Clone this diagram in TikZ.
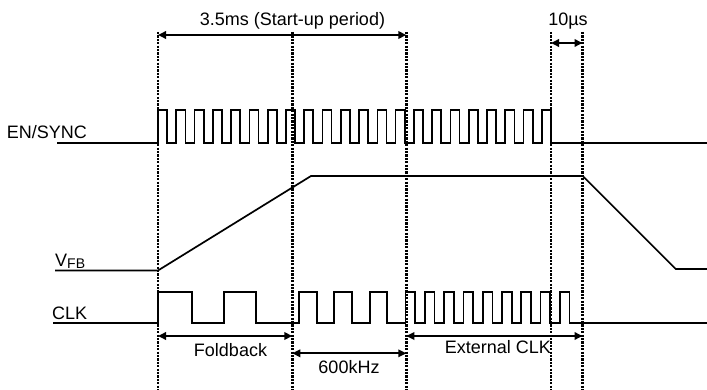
\documentclass[tikz,border=0pt]{standalone}
\usepackage{fontspec}
\setmainfont{Liberation Sans}
\usetikzlibrary{arrows.meta}
\begin{document}
\begin{tikzpicture}[x=1pt,y=-1pt,
  sig/.style={line width=1.7pt,line join=miter},
  guide/.style={line width=2.4pt,dash pattern=on 2.2pt off 1.2pt},
  dim/.style={line width=1.8pt,{Triangle[length=8pt,width=7.5pt]}-{Triangle[length=8pt,width=7.5pt]}},
  lbl/.style={font=\fontsize{18}{20}\selectfont,inner sep=0pt},
  ann/.style={font=\fontsize{18}{20}\selectfont,inner sep=0pt}]
\useasboundingbox (0,0) rectangle (707,390);
% guide coordinates
\foreach \n/\x in {g1/158,g2/292.3,g3/406.3,g4/551,g5/582.5}{
  \coordinate (\n t) at (\x,32);
  \coordinate (\n b) at (\x,390);
}
\foreach \n in {g1,g2,g3,g4,g5}{\draw[guide] (\n t) -- (\n b);}
% EN/SYNC
\draw[sig] (57,143.3) -- (158,143.3)
  foreach \k in {0,...,21}{ -- ({158+\k*18.28},110) -- ({158+\k*18.28+9.1},110) -- ({158+\k*18.28+9.1},143.3) -- ({158+(\k+1)*18.28},143.3) }
  -- (707,143.3);
% VFB
\draw[sig] (55,270.5) -- (158,270.5) -- (311,176) -- (582.7,176) -- (675.7,269) -- (707,269);
% CLK
\draw[sig] (53,323.3) -- (158,323.3) -- (158,291.7) -- (192.3,291.7) -- (192.3,323.3) -- (224,323.3) -- (224,291.7) -- (256,291.7) -- (256,323.3)
  -- (299,323.3) -- (299,291.7) -- (316.7,291.7) -- (316.7,323.3) -- (334.3,323.3) -- (334.3,291.7) -- (352.3,291.7) -- (352.3,323.3)
  -- (370,323.3) -- (370,291.7) -- (386.7,291.7) -- (386.7,323.3) -- (405.5,323.3)
  foreach \k in {0,...,8}{ -- ({405.5+\k*19.3},291.7) -- ({405.5+\k*19.3+9.7},291.7) -- ({405.5+\k*19.3+9.7},323.3) -- ({405.5+(\k+1)*19.3},323.3) }
  -- (707,323.3);
% labels
\node[lbl,anchor=base east] (en) at (87,138.5) {EN/SYNC};
\node[lbl,anchor=base west] (vfb) at (55,266.7) {V\raisebox{-1.8pt}{\fontsize{14}{16}\selectfont FB}};
\node[lbl,anchor=base west] (clk) at (52,319.3) {CLK};
% dimension arrows
\coordinate (a1) at (158,35); \coordinate (a2) at (406.3,35);
\draw[dim] (a1) -- (a2);
\node[ann] (t1) at (292.5,21) {3.5ms (Start-up period)};
\coordinate (b1) at (551,43); \coordinate (b2) at (582.5,43);
\draw[dim] (b1) -- (b2);
\node[ann] (t2) at (568,21) {10µs};
\coordinate (c1) at (158,336); \coordinate (c2) at (292.3,336);
\draw[dim] (c1) -- (c2);
\node[ann] (t3) at (230.5,350) {Foldback};
\coordinate (d1) at (292.3,353.3); \coordinate (d2) at (406.3,353.3);
\draw[dim] (d1) -- (d2);
\node[ann] (t4) at (349,367) {600kHz};
\coordinate (e1) at (406.3,336); \coordinate (e2) at (582.5,336);
\draw[dim] (e1) -- (e2);
\node[ann] (t5) at (497.8,347) {External CLK};
\end{tikzpicture}
\end{document}
